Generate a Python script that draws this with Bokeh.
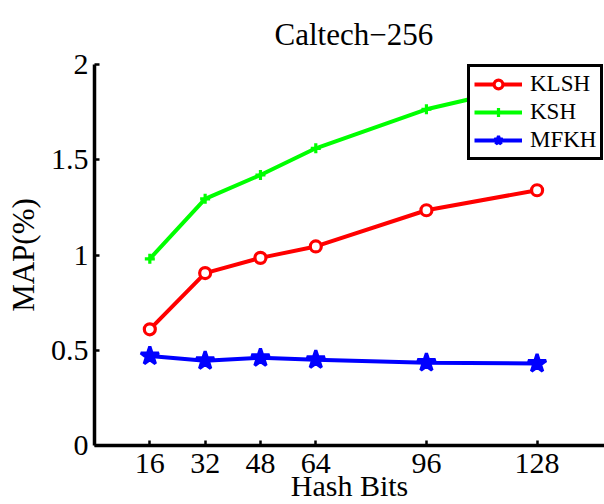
from bokeh.plotting import figure
from bokeh.models import Range1d, FixedTicker, Legend, LegendItem
from bokeh.embed import file_html
from bokeh.resources import INLINE

# ---- data ----
bits = [16, 32, 48, 64, 96, 128]
klsh = [0.61, 0.905, 0.985, 1.045, 1.235, 1.34]
ksh = [0.98, 1.295, 1.42, 1.56, 1.765, 1.90]
mfkh = [0.47, 0.445, 0.46, 0.45, 0.435, 0.43]
y_ticks = [0, 0.5, 1, 1.5, 2]
y_tick_labels = ["0", "0.5", "1", "1.5", "2"]
title_text = "Caltech\u2212256"
x_label = "Hash Bits"
y_label = "MAP(%)"

FONT = "Liberation Serif"

p = figure(width=604, height=504, output_backend="svg", toolbar_location=None,
           x_range=Range1d(0, 147.5), y_range=Range1d(0, 2),
           min_border_left=94, min_border_right=0, min_border_top=64,
           min_border_bottom=0, background_fill_color="white")
p.outline_line_color = None
p.grid.visible = False

p.title.text = title_text
p.title.text_font = FONT
p.title.text_font_size = "31px"
p.title.text_font_style = "normal"
p.title.text_color = "black"
p.title.align = "left"
p.title.offset = 180
p.title.standoff = 26

for ax in (p.xaxis[0], p.yaxis[0]):
    ax.axis_line_width = 3.5
    ax.axis_line_color = "black"
    ax.major_tick_in = 5
    ax.major_tick_out = 0
    ax.major_tick_line_width = 2.5
    ax.minor_tick_in = 0
    ax.minor_tick_out = 0
    ax.major_label_text_font = FONT
    ax.major_label_text_font_size = "30px"
    ax.major_label_text_color = "black"
    ax.major_label_standoff = 6

p.xaxis.major_label_standoff = 8
p.xaxis.ticker = FixedTicker(ticks=bits)
p.xaxis.axis_label = x_label
p.xaxis.axis_label_text_font = FONT
p.xaxis.axis_label_text_font_size = "30px"
p.xaxis.axis_label_text_font_style = "normal"
p.xaxis.axis_label_text_color = "black"
p.xaxis.axis_label_standoff = -7

p.yaxis.ticker = FixedTicker(ticks=y_ticks)
p.yaxis.major_label_overrides = dict(zip(y_ticks, y_tick_labels))
p.yaxis.axis_label = y_label
p.yaxis.axis_label_text_font = FONT
p.yaxis.axis_label_text_font_size = "31px"
p.yaxis.axis_label_text_font_style = "normal"
p.yaxis.axis_label_text_color = "black"
p.yaxis.axis_label_standoff = 7

series = [
    ("KLSH", klsh, "#ff0000", "circle", 11, "white"),
    ("KSH", ksh, "#00ff00", "cross", 10, "#00ff00"),
    ("MFKH", mfkh, "#0000ff", "star", 19, "#0000ff"),
]
items = []
for name, vals, col, mk, sz, fill in series:
    l = p.line(bits, vals, line_color=col, line_width=4)
    s = p.scatter(bits, vals, marker=mk, size=sz, line_color=col,
                  fill_color=fill, line_width=3.2)
    items.append(LegendItem(label=name, renderers=[l, s]))

legend = Legend(items=items, location=(373, 285))
legend.border_line_color = "black"
legend.border_line_alpha = 1
legend.border_line_width = 3.5
legend.background_fill_color = "white"
legend.background_fill_alpha = 1
legend.padding = 4
legend.spacing = 2
legend.margin = 0
legend.label_text_font = FONT
legend.label_text_font_size = "23px"
legend.label_text_color = "black"
legend.label_height = 22
legend.glyph_height = 22
legend.glyph_width = 48
legend.label_standoff = 8
p.add_layout(legend)

open("out.html", "w").write(file_html(p, INLINE))
